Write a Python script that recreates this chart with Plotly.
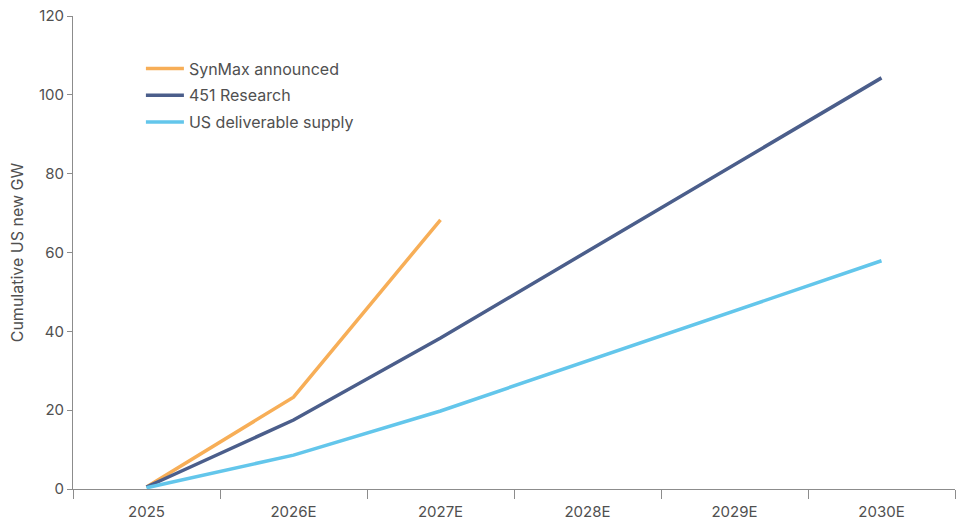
import plotly.graph_objects as go

years = ["2025", "2026E", "2027E", "2028E", "2029E", "2030E"]
synmax_announced = [0.5, 23.3, 68.3]
research_451 = [0.5, 17.5, 38.3, 60.3, 82.3, 104.3]
us_deliverable = [0.3, 8.6, 19.8, 32.5, 45.2, 57.9]

FONT = "Inter, Roboto, sans-serif"
AXIS = "#8c8c8c"
TXT = "#505050"

fig = go.Figure()
series = [
    ("SynMax announced", years[:3], synmax_announced, "#F7AE57"),
    ("451 Research", years, research_451, "#4B5E8B"),
    ("US deliverable supply", years, us_deliverable, "#63C6EB"),
]
for name, xs, ys, col in series:
    fig.add_trace(go.Scatter(
        x=xs, y=ys, name=name, mode="lines", legendgroup=name,
        line=dict(color=col, width=3.5),
    ))

fig.update_layout(
    width=956, height=520,
    margin=dict(l=73, r=1, t=16, b=31),
    paper_bgcolor="white", plot_bgcolor="white",
    font=dict(family=FONT, size=15, color=TXT),
    showlegend=True,
    legend=dict(
        x=0.077, y=0.925, xanchor="left", yanchor="top",
        bgcolor="rgba(0,0,0,0)", font=dict(size=16, color=TXT),
        tracegroupgap=3, itemwidth=38,
    ),
    xaxis=dict(
        type="category", categoryorder="array", categoryarray=years,
        range=[-0.5, 5.5], tickson="boundaries", automargin=False,
        ticks="outside", ticklen=9, tickcolor=AXIS, tickwidth=1,
        ticklabelstandoff=9,
        showline=True, linecolor=AXIS, linewidth=1,
        showgrid=False, zeroline=False,
        tickfont=dict(size=15, color=TXT),
    ),
    yaxis=dict(
        range=[0, 120], dtick=20, automargin=False,
        ticks="outside", ticklen=5, tickcolor=AXIS, tickwidth=1,
        showline=True, linecolor=AXIS, linewidth=1,
        showgrid=False, zeroline=False,
        tickfont=dict(size=15, color=TXT),
        title=dict(text="Cumulative US new GW", font=dict(size=16, color=TXT), standoff=11),
    ),
)

fig.write_html("out.html")
